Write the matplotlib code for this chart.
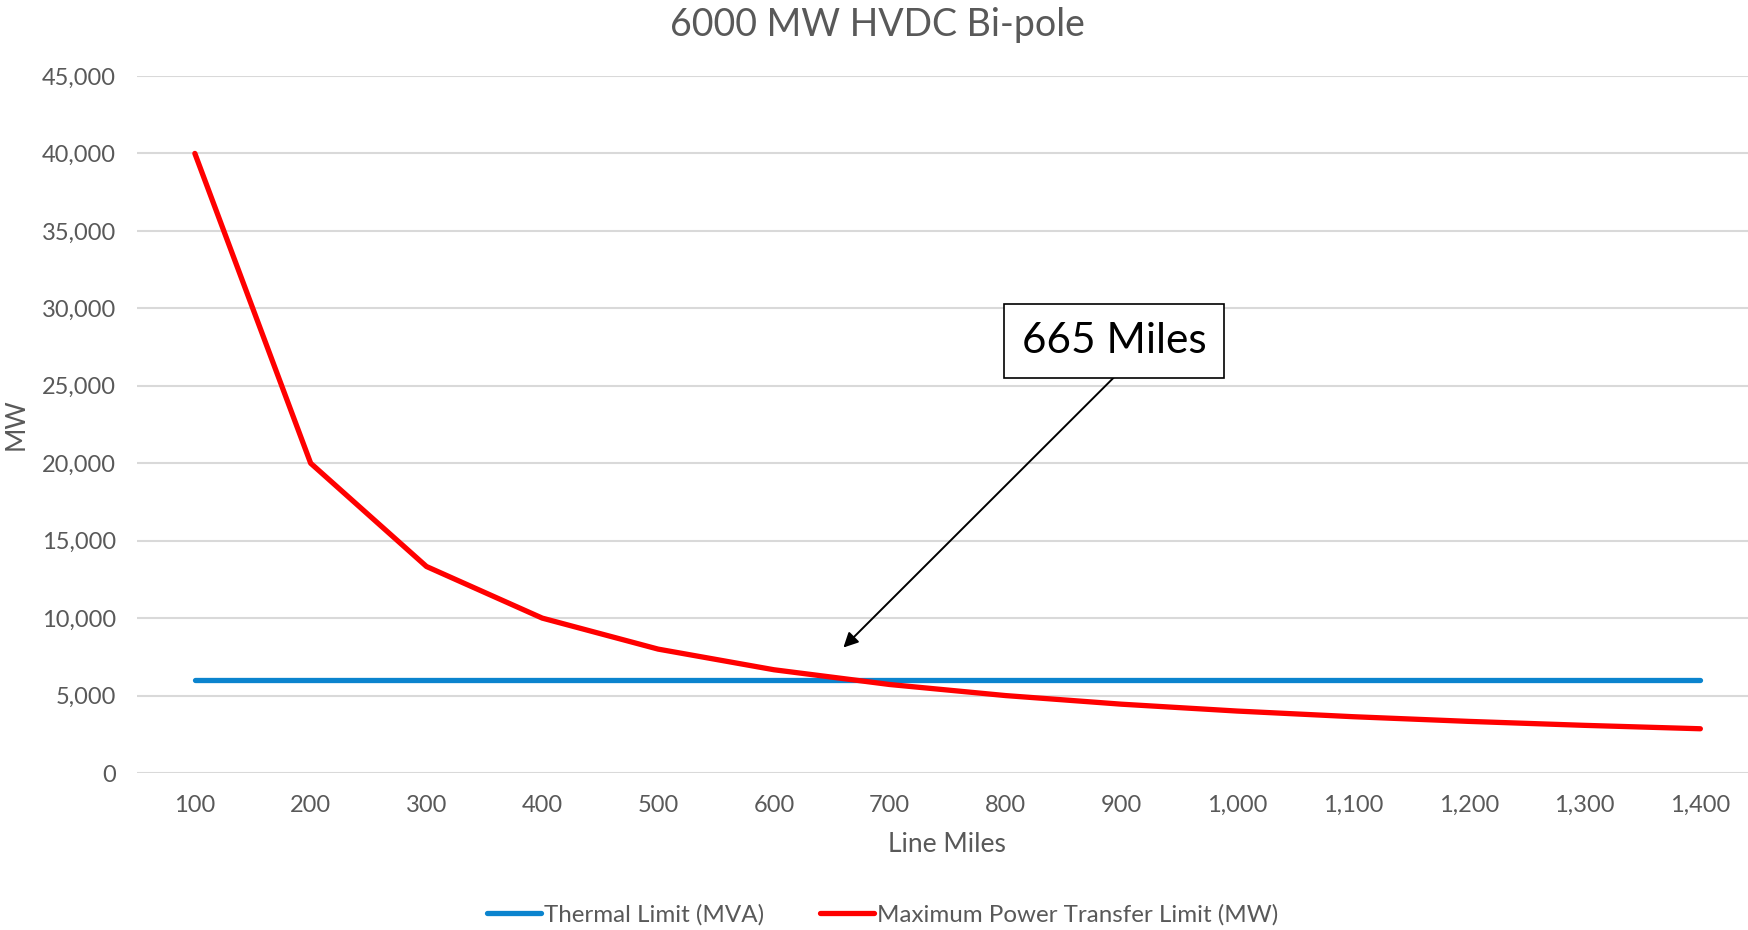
import numpy as np
import matplotlib.pyplot as plt
from matplotlib.lines import Line2D

# Data
line_miles = ['100', '200', '300', '400', '500', '600', '700',
              '800', '900', '1,000', '1,100', '1,200', '1,300', '1,400']
thermal_limit = [6000] * 14
max_transfer = [40000, 20000, 13333, 10000, 8000, 6667, 5714,
                5000, 4444, 4000, 3636, 3333, 3077, 2857]
y_ticks = [0, 5000, 10000, 15000, 20000, 25000, 30000, 35000, 40000, 45000]

GRAY = '#595959'
BLUE = '#0B84CE'
RED = '#FF0000'

plt.rcParams['font.family'] = ['Lato', 'DejaVu Sans']

fig = plt.figure(figsize=(17.49, 9.30), dpi=100)
ax = fig.add_axes([0.0783, 0.1688, 0.927, 0.7495])

x = np.arange(len(line_miles))
ax.plot(x, thermal_limit, color=BLUE, lw=3.8, solid_capstyle='round', zorder=3)
ax.plot(x, max_transfer, color=RED, lw=3.8, solid_capstyle='round', zorder=4)

ax.set_xlim(-0.5, len(line_miles) - 0.5)
ax.set_ylim(0, 45000)
ax.set_xticks(x)
ax.set_xticklabels(line_miles)
ax.set_yticks(y_ticks)
ax.set_yticklabels([f'{v:,}' for v in y_ticks])
ax.tick_params(length=0, labelsize=17, labelcolor=GRAY)
ax.tick_params(axis='x', pad=16)
ax.tick_params(axis='y', pad=15)
ax.grid(axis='y', color='#D9D9D9', lw=1.5, zorder=0)
for s in ax.spines.values():
    s.set_visible(False)

ax.set_xlabel('Line Miles', fontsize=19, color=GRAY, va='center')
ax.xaxis.set_label_coords(0.4997, -0.102)
ax.set_ylabel('MW', fontsize=19, color=GRAY, va='center')
ax.yaxis.set_label_coords(-0.0746, 0.5)
fig.text(0.5015, 0.973, '6000 MW HVDC Bi-pole', fontsize=27, color=GRAY,
         ha='center', va='center')

# annotation: text box plus arrow from the middle of its lower edge
ax.text(7.94, 27900, '665 Miles', fontsize=30.5, color='black',
        ha='center', va='center', zorder=6,
        bbox=dict(boxstyle='square,pad=0.42', fc='white', ec='black', lw=1.2))
ax.annotate('', xy=(5.6, 8100), xytext=(7.94, 25570),
            arrowprops=dict(arrowstyle='-|>', color='black', lw=1.4,
                            mutation_scale=22, shrinkA=0, shrinkB=0),
            zorder=5)

handles = [Line2D([], [], color=BLUE, lw=3.8, solid_capstyle='round'),
           Line2D([], [], color=RED, lw=3.8, solid_capstyle='round')]
fig.legend(handles, ['Thermal Limit (MVA)', 'Maximum Power Transfer Limit (MW)'],
           loc='center', bbox_to_anchor=(0.5045, 0.016), ncol=2, frameon=False,
           fontsize=17.4, labelcolor=GRAY, handlelength=2.27, handletextpad=0.1,
           columnspacing=2.3)

fig.savefig('out.png', dpi=100)
